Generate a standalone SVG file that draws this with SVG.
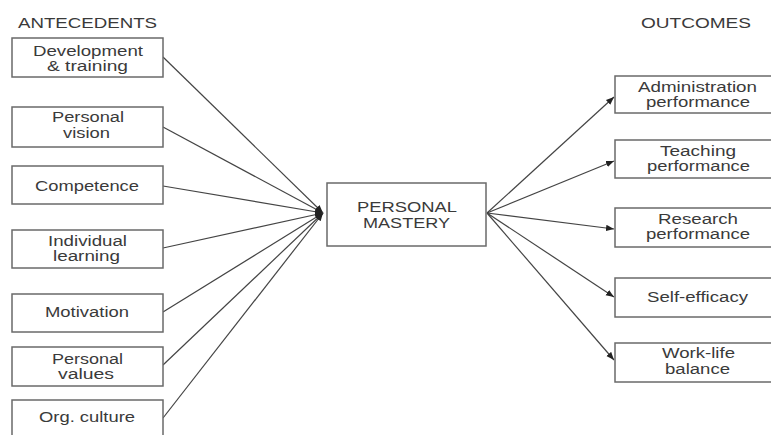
<svg xmlns="http://www.w3.org/2000/svg" width="771" height="435" viewBox="0 0 771 435">
  <defs>
    <marker id="arrow" viewBox="0 0 10 10" refX="10" refY="5" markerWidth="8" markerHeight="8" markerUnits="userSpaceOnUse" orient="auto">
      <path d="M0,1 L10,5 L0,9 z" fill="#222"/>
    </marker>
  </defs>
  <style>
    .box { fill: #fff; stroke: #6a6a6a; stroke-width: 1.5; }
    .t { font-family: "Liberation Sans", Arial, sans-serif; font-size: 14px; fill: #3a3a3a; }
    .h { font-family: "Liberation Sans", Arial, sans-serif; font-size: 14px; fill: #3a3a3a; }
    .edge { stroke: #444; stroke-width: 1.2; fill: none; marker-end: url(#arrow); }
  </style>
  <rect width="771" height="435" fill="#fff"/>

  <!-- column headings -->
  <text class="h" x="18" y="28" textLength="139" lengthAdjust="spacingAndGlyphs">ANTECEDENTS</text>
  <text class="h" x="641" y="28" textLength="110" lengthAdjust="spacingAndGlyphs">OUTCOMES</text>

  <!-- connectors -->
  <g id="connectors">
    <line class="edge" x1="163" y1="57" x2="323" y2="213"/>
    <line class="edge" x1="163" y1="127" x2="323" y2="213"/>
    <line class="edge" x1="163" y1="186" x2="323" y2="213"/>
    <line class="edge" x1="163" y1="248" x2="323" y2="213"/>
    <line class="edge" x1="163" y1="312" x2="323" y2="213"/>
    <line class="edge" x1="163" y1="365" x2="323" y2="213"/>
    <line class="edge" x1="163" y1="418" x2="323" y2="213"/>
    <line class="edge" x1="487" y1="213" x2="614" y2="97"/>
    <line class="edge" x1="487" y1="213" x2="614" y2="161"/>
    <line class="edge" x1="487" y1="213" x2="614" y2="229"/>
    <line class="edge" x1="487" y1="213" x2="614" y2="297"/>
    <line class="edge" x1="487" y1="213" x2="614" y2="360"/>
  </g>

  <!-- antecedents -->
  <g id="development">
    <rect class="box" x="12" y="38" width="151" height="39"/>
    <text class="t" x="33" y="56" textLength="110" lengthAdjust="spacingAndGlyphs">Development</text>
    <text class="t" x="47" y="71" textLength="81" lengthAdjust="spacingAndGlyphs">&amp; training</text>
  </g>
  <g id="vision">
    <rect class="box" x="12" y="107" width="151" height="40"/>
    <text class="t" x="52" y="122" textLength="72" lengthAdjust="spacingAndGlyphs">Personal</text>
    <text class="t" x="63" y="138" textLength="47" lengthAdjust="spacingAndGlyphs">vision</text>
  </g>
  <g id="competence">
    <rect class="box" x="12" y="166" width="151" height="38"/>
    <text class="t" x="35" y="191" textLength="104" lengthAdjust="spacingAndGlyphs">Competence</text>
  </g>
  <g id="learning">
    <rect class="box" x="12" y="230" width="151" height="38"/>
    <text class="t" x="48" y="246" textLength="79" lengthAdjust="spacingAndGlyphs">Individual</text>
    <text class="t" x="53" y="261" textLength="67" lengthAdjust="spacingAndGlyphs">learning</text>
  </g>
  <g id="motivation">
    <rect class="box" x="12" y="294" width="151" height="38"/>
    <text class="t" x="45" y="317" textLength="84" lengthAdjust="spacingAndGlyphs">Motivation</text>
  </g>
  <g id="values">
    <rect class="box" x="12" y="347" width="151" height="39"/>
    <text class="t" x="52" y="364" textLength="71" lengthAdjust="spacingAndGlyphs">Personal</text>
    <text class="t" x="58" y="379" textLength="56" lengthAdjust="spacingAndGlyphs">values</text>
  </g>
  <g id="culture">
    <rect class="box" x="12" y="400" width="151" height="39"/>
    <text class="t" x="39" y="422" textLength="96" lengthAdjust="spacingAndGlyphs">Org. culture</text>
  </g>

  <!-- core construct -->
  <g id="mastery">
    <rect class="box" x="327" y="183" width="159" height="63"/>
    <text class="t" x="357" y="212" textLength="100" lengthAdjust="spacingAndGlyphs">PERSONAL</text>
    <text class="t" x="363" y="228" textLength="87" lengthAdjust="spacingAndGlyphs">MASTERY</text>
  </g>

  <!-- outcomes -->
  <g id="administration">
    <rect class="box" x="615" y="76" width="165" height="37"/>
    <text class="t" x="638" y="92" textLength="119" lengthAdjust="spacingAndGlyphs">Administration</text>
    <text class="t" x="646" y="107" textLength="104" lengthAdjust="spacingAndGlyphs">performance</text>
  </g>
  <g id="teaching">
    <rect class="box" x="615" y="140" width="165" height="38"/>
    <text class="t" x="660" y="156" textLength="76" lengthAdjust="spacingAndGlyphs">Teaching</text>
    <text class="t" x="647" y="171" textLength="103" lengthAdjust="spacingAndGlyphs">performance</text>
  </g>
  <g id="research">
    <rect class="box" x="615" y="208" width="165" height="39"/>
    <text class="t" x="658" y="224" textLength="80" lengthAdjust="spacingAndGlyphs">Research</text>
    <text class="t" x="646" y="239" textLength="104" lengthAdjust="spacingAndGlyphs">performance</text>
  </g>
  <g id="selfefficacy">
    <rect class="box" x="615" y="278" width="165" height="39"/>
    <text class="t" x="647" y="302" textLength="101" lengthAdjust="spacingAndGlyphs">Self-efficacy</text>
  </g>
  <g id="worklife">
    <rect class="box" x="615" y="343" width="165" height="39"/>
    <text class="t" x="662" y="358" textLength="73" lengthAdjust="spacingAndGlyphs">Work-life</text>
    <text class="t" x="665" y="374" textLength="65" lengthAdjust="spacingAndGlyphs">balance</text>
  </g>
</svg>
